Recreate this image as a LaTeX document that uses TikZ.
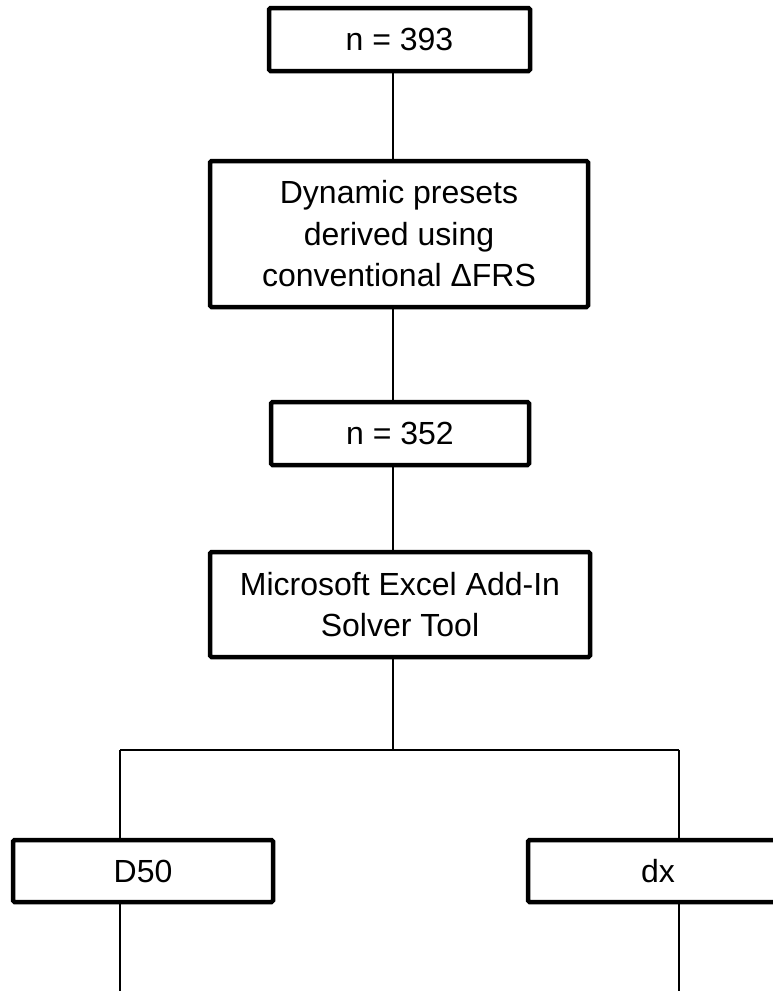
\documentclass[tikz,border=0pt]{standalone}
\usepackage{fontspec}
\setmainfont{Liberation Sans}
\usetikzlibrary{calc}

\tikzset{
    stagebox/.style={draw, line width=4.5pt, rounded corners=1.5pt, fill=white,
        align=center, inner sep=0pt, font=\fontsize{32}{41.5}\selectfont},
    link/.style={line width=1.5pt}
}

\begin{document}
\begin{tikzpicture}[x=1pt,y=-1pt]
                \useasboundingbox[fill=white] (0,0) rectangle (772,991);

                \coordinate (spine) at (393,0);
                \coordinate (split) at (393,750);
                \coordinate (lbranch) at (120,750);
                \coordinate (rbranch) at (679,750);
                \coordinate (lend) at (120,991);
                \coordinate (rend) at (679,991);

                \node[stagebox, minimum width=261pt, minimum height=63pt] (total) at (399.5,39.5) {n = 393};
                \node[stagebox, minimum width=378pt, minimum height=146pt] (presets) at (399,234)
                    {Dynamic presets\\derived using\\conventional ΔFRS};
                \node[stagebox, minimum width=258pt, minimum height=63pt] (kept) at (400,433.5) {n = 352};
                \node[stagebox, minimum width=380pt, minimum height=105pt] (solver) at (400,604.5)
                    {Microsoft Excel Add-In\\Solver Tool};
                \node[stagebox, minimum width=260pt, minimum height=62pt] (dfifty) at (143,871) {D50};
                \node[stagebox, minimum width=260pt, minimum height=62pt] (dx) at (658,871) {dx};

                \draw[link] (total.south -| spine) -- (presets.north -| spine);
                \draw[link] (presets.south -| spine) -- (kept.north -| spine);
                \draw[link] (kept.south -| spine) -- (solver.north -| spine);
                \draw[link] (solver.south -| spine) -- (split);
                \draw[link] (lbranch) -- (rbranch);
                \draw[link] (lbranch) -- (dfifty.north -| lbranch);
                \draw[link] (rbranch) -- (dx.north -| rbranch);
                \draw[link] (dfifty.south -| lbranch) -- (lend);
                \draw[link] (dx.south -| rbranch) -- (rend);
            \end{tikzpicture}
\end{document}
